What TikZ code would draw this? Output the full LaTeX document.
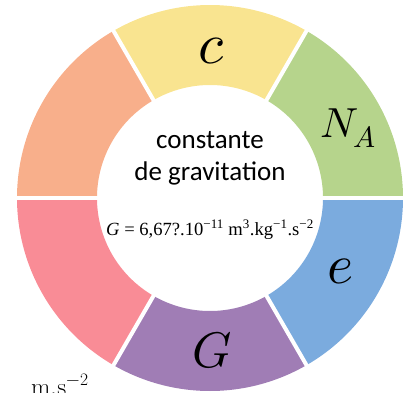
\documentclass[tikz,border=0pt]{standalone}
\usepackage{unicode-math}
\newfontfamily\sansfont{Carlito}
\newfontfamily\serfont{Liberation Serif}
\definecolor{vertNA}{HTML}{B6D48C}
\definecolor{jauneC}{HTML}{F9E490}
\definecolor{orangeS}{HTML}{F8AF8B}
\definecolor{rougeS}{HTML}{F98C96}
\definecolor{violetG}{HTML}{A07DB5}
\definecolor{bleuE}{HTML}{7BABDE}
\begin{document}
\begin{tikzpicture}[x=1pt,y=1pt,line join=round,
	lettre/.style={inner sep=0pt,anchor=base,font=\fontsize{56}{56}\selectfont},
	centre/.style={inner sep=0pt,anchor=base,font=\sansfont\fontsize{27}{27}\selectfont}]
	\clip (-210,-194) rectangle (200,198);
	%Vẽ các phần của vành
	\foreach \a/\col in {0/vertNA,60/jauneC,120/orangeS,180/rougeS,240/violetG,300/bleuE}
	\fill[\col] (\a:113) arc[start angle=\a,end angle=\a+60,radius=113]
	-- ({\a+60}:193) arc[start angle=\a+60,end angle=\a,radius=193] -- cycle;
	%Vẽ các khe trắng
	\foreach \a in {0,60,...,300} \draw[white,line width=4pt] (\a:105)--(\a:200);
	%Các ký hiệu
	\node[lettre,font=\fontsize{58}{58}\selectfont] (c) at (2,135) {$c$};
	\node[lettre,anchor=base west,font=\fontsize{42}{42}\selectfont] (NA) at (110,61) {$N_A$};
	\node[lettre] (e) at (131,-85) {$e$};
	\node[lettre,font=\fontsize{50}{50}\selectfont] (G) at (2,-169) {$G$};
	%Chữ ở giữa
	\node[centre] (l1) at (0,50) {constante};
	\node[centre] (l2) at (0,18) {de gravitation};
	\node[inner sep=0pt,anchor=base,font=\serfont\fontsize{18.6}{18.6}\selectfont] (val) at (0,-37)
	{\textit{G} = 6,67?.10\textsuperscript{−11} m\textsuperscript{3}.kg\textsuperscript{−1}.s\textsuperscript{−2}};
	\node[inner sep=0pt,anchor=base west,font=\fontsize{25}{25}\selectfont] (ms) at (-179,-197) {$\mathrm{m.s^{-2}}$};
\end{tikzpicture}
\end{document}
